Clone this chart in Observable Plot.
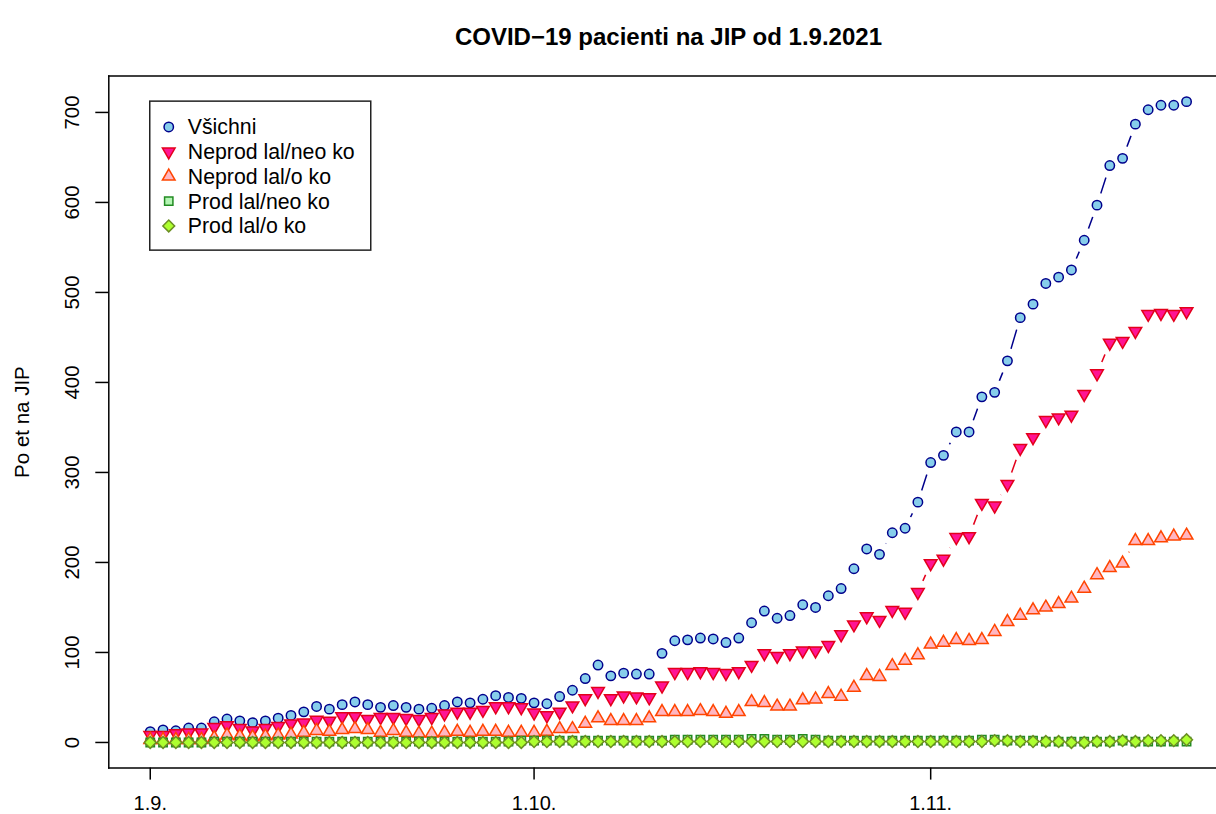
<!DOCTYPE html>
<html><head><meta charset="utf-8">
<script src="https://cdn.jsdelivr.net/npm/d3@7"></script>
<script src="https://cdn.jsdelivr.net/npm/@observablehq/plot@0.6"></script>
<style>
html,body{margin:0;padding:0;background:#fff;}
#chart{width:1216px;height:814px;overflow:hidden;}
</style></head><body><div id="chart"></div>
<script>
// ---- data ----
const startDate = "2021-09-01";
const vsichni = [12,14,13,16,16,23,26,24,22,24, 27,30,34,40,37,42,45,42,39,41, 39,37,38,41,45,44,48,52,50,49, 44,43,51,58,71,86,74,77,76,76, 99,113,114,116,115,111,116,133,146,138, 141,153,150,163,171,193,215,209,233,238, 267,311,319,345,345,384,389,424,472,487, 510,517,525,558,597,641,649,687,703,708, 708,712];
const neprodNeo = [8,8,10,11,11,17,19,16,13,16, 18,21,22,25,24,29,29,26,28,28, 27,26,28,32,34,34,36,40,40,39, 33,30,34,41,49,57,49,52,51,50, 63,78,78,79,78,77,79,86,99,96, 99,102,102,108,120,131,140,136,147,145, 167,199,204,228,229,266,263,287,327,339, 358,361,364,387,410,444,446,457,476,477, 476,479];
const neprodO = [3,3,3,3,3,5,8,7,6,7, 8,9,11,13,12,14,15,14,11,13, 11,10,10,11,12,11,12,12,11,11, 11,12,15,15,21,27,24,24,24,27, 34,34,34,35,34,32,34,45,44,40, 40,47,48,54,51,61,74,73,85,91, 97,109,111,114,113,114,123,134,141,147, 150,154,160,171,186,194,199,224,224,227, 229,230];
const prodNeo = [0,0,0,0,0,1,1,1,1,1, 1,1,1,1,1,1,1,1,1,1, 1,1,1,1,1,1,1,1,1,2, 2,2,2,2,2,2,2,2,2,2, 2,3,3,3,3,3,3,4,4,3, 3,4,3,2,2,2,2,2,2,2, 2,2,2,2,2,3,3,2,2,2, 1,1,1,1,1,1,2,1,1,1, 1,1];
const prodO = [0,0,0,0,0,0,0,0,0,0, 0,0,0,0,0,0,0,0,0,0, 0,0,0,0,0,0,0,0,0,0, 1,1,1,1,1,1,1,1,1,1, 1,1,1,1,1,1,1,1,1,1, 1,1,1,1,1,1,1,1,1,1, 1,1,1,1,1,1,2,2,1,1, 1,1,0,0,1,1,2,1,2,2, 2,3];
const seriesNames = ["Všichni","Neprod lal/neo ko","Neprod lal/o ko","Prod lal/neo ko","Prod lal/o ko"];
const xTickDates = ["2021-09-01","2021-10-01","2021-11-01"];
const xTickLabels = ["1.9.","1.10.","1.11."];
const yTicks = [0,100,200,300,400,500,600,700];
const titleText = "COVID−19 pacienti na JIP od 1.9.2021";
const yLabelText = "Po et na JIP";

// ---- R-like symbols ----
const TRC0 = Math.sqrt(4*Math.PI/(3*Math.sqrt(3))), TRC1 = TRC0*Math.sqrt(3)/2, TRC2 = TRC0/2;
const rOf = s => Math.sqrt(s/Math.PI);
const symCircle = {draw(c,s){const r=rOf(s); c.moveTo(r,0); c.arc(0,0,r,0,2*Math.PI);}};
const symUp = {draw(c,s){const r=rOf(s); c.moveTo(0,-TRC0*r); c.lineTo(TRC1*r,TRC2*r); c.lineTo(-TRC1*r,TRC2*r); c.closePath();}};
const symDown = {draw(c,s){const r=rOf(s); c.moveTo(0,TRC0*r); c.lineTo(TRC1*r,-TRC2*r); c.lineTo(-TRC1*r,-TRC2*r); c.closePath();}};
const symSquare = {draw(c,s){const h=0.886*rOf(s); c.moveTo(-h,-h); c.lineTo(h,-h); c.lineTo(h,h); c.lineTo(-h,h); c.closePath();}};
const symDiamond = {draw(c,s){const d=1.2533*rOf(s); c.moveTo(-d,0); c.lineTo(0,-d); c.lineTo(d,0); c.lineTo(0,d); c.closePath();}};

const series = [
  {name: seriesNames[0], values: vsichni,   symbol: symCircle,  fill: "#87CEEB", stroke: "#00008B"},
  {name: seriesNames[1], values: neprodNeo, symbol: symDown,    fill: "#FF1493", stroke: "#E3001B"},
  {name: seriesNames[2], values: neprodO,   symbol: symUp,      fill: "#FFB6C1", stroke: "#FF4500"},
  {name: seriesNames[3], values: prodNeo,   symbol: symSquare,  fill: "#B4F5B4", stroke: "#228B22"},
  {name: seriesNames[4], values: prodO,     symbol: symDiamond, fill: "#ADFF2F", stroke: "#6B8E23"}
];

const DAY = 864e5;
const start = new Date(startDate + "T00:00:00Z");
series.forEach(s => { s.rows = s.values.map((v, i) => ({date: d3.utcDay.offset(start, i), value: v, series: s.name})); });
const allRows = series.flatMap(s => s.rows);
const tickDates = xTickDates.map(d => new Date(d + "T00:00:00Z"));
const tickLabelMap = new Map(tickDates.map((d, i) => [+d, xTickLabels[i]]));

const R = 4.7;
const FONT = "'Liberation Sans', Arial, Helvetica, sans-serif";

const plot = Plot.plot({
  width: 1216, height: 814,
  marginLeft: 108.3, marginRight: 0, marginTop: 75.5, marginBottom: 46.4,
  style: {fontFamily: FONT, fontSize: "20px", background: "white", color: "black"},
  x: {type: "utc", domain: [new Date(+start - 3.24*DAY), new Date(+start + 83.34*DAY)], axis: null},
  y: {domain: [-28.48, 740.48], axis: null},
  marks: [
    ...series.map(s => Plot.line(s.rows, {x: "date", y: "value", stroke: s.stroke, strokeWidth: 1.5})),
    Plot.dot(allRows, {x: "date", y: "value", r: 12.5, fill: "white", stroke: null}),
    ...series.map(s => Plot.dot(s.rows, {x: "date", y: "value", symbol: s.symbol, r: R, fill: s.fill, stroke: s.stroke, strokeWidth: 1.5})),
    Plot.frame({anchor: "left", stroke: "black", strokeWidth: 1.5}),
    Plot.frame({anchor: "top", stroke: "black", strokeWidth: 1.5}),
    Plot.frame({anchor: "bottom", stroke: "black", strokeWidth: 1.5}),
    Plot.axisX({ticks: tickDates, tickFormat: d => tickLabelMap.get(+d), tickSize: 12, tickPadding: 16, fontSize: 20, label: null, strokeWidth: 1.5}),
    Plot.axisY({ticks: yTicks, tickSize: 13, tickFormat: () => "", label: null, strokeWidth: 1.5}),
    Plot.text(yTicks, {y: d => d, text: d => String(d), frameAnchor: "left", textAnchor: "middle", dx: -36, rotate: -90, fontSize: 20.5, fill: "black"}),
    Plot.text([yLabelText], {text: d => d, frameAnchor: "left", textAnchor: "middle", dx: -86, rotate: -90, fontSize: 20.5, fill: "black"}),
    Plot.text([titleText], {text: d => d, frameAnchor: "top", textAnchor: "middle", dx: 5.8, dy: -48.5, fontSize: 24, fontWeight: "bold", fill: "black"})
  ]
});

// ---- legend inside the plot (R legend at x = first day, y = max value) ----
const xs = plot.scale("x"), ys = plot.scale("y");
const lx = xs.apply(start), ly = ys.apply(d3.max(vsichni));
const g = d3.select(plot).append("g").attr("font-family", FONT).attr("font-size", 21.3).attr("text-anchor", "start");
g.append("rect").attr("x", lx).attr("y", ly).attr("width", 221).attr("height", 149)
  .attr("fill", "white").attr("stroke", "#222").attr("stroke-width", 1.5);
series.forEach((s, i) => {
  const cy = ly + 25.8 + i * 24.75;
  g.append("path").attr("d", d3.symbol(s.symbol, Math.PI * R * R)())
    .attr("transform", `translate(${lx + 19},${cy})`)
    .attr("fill", s.fill).attr("stroke", s.stroke).attr("stroke-width", 1.5);
  g.append("text").attr("x", lx + 38).attr("y", cy).attr("dy", "0.35em")
    .attr("text-anchor", "start").attr("fill", "black").text(s.name);
});

document.getElementById("chart").appendChild(plot);
</script>
</body></html>
